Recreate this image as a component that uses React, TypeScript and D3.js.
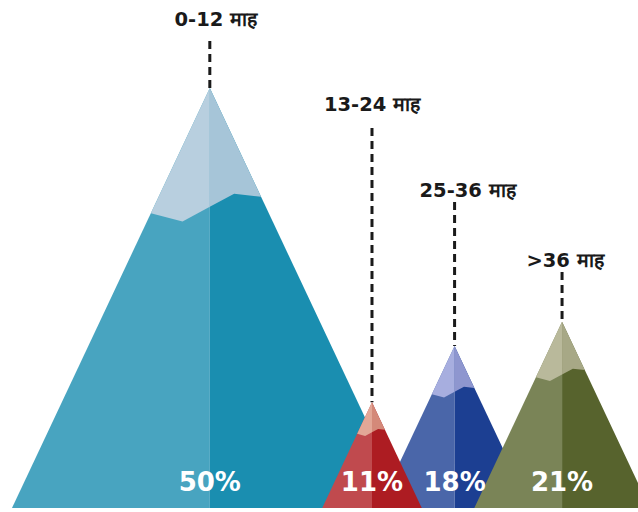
import * as d3 from 'd3'

const CATEGORIES = ['0-12 माह', '13-24 माह', '25-36 माह', '>36 माह']
const VALUES = [50, 11, 18, 21]
const PCT_LABELS = ['50%', '11%', '18%', '21%']

// snow / body, left (lit) and right (shaded) faces
const SNOW_L = ['#b8cfdf', '#e2a797', '#a7aedf', '#b9b99b']
const SNOW_R = ['#a6c5d8', '#d48979', '#8e96cf', '#a7a886']
const BODY_L = ['#48a4c0', '#c04a4e', '#4a66a9', '#7a8457']
const BODY_R = ['#1a8eb0', '#ad1c22', '#1c3f92', '#57632d']

const W = 638
const H = 512
const BASE_Y = 508
const SLOPE = 0.471 // half-width / height
const OVERLAP = 0.655
const FIRST_LEFT = 12
const LABEL_Y = [26, 111, 197, 267]
const LABEL_DX = [6, 0, 13, 3]
const LEADER_GAP = [15, 17, 5, 5]
const DRAW_ORDER = [0, 2, 1, 3]
const FONT = '"DejaVu Sans", Verdana, sans-serif'

// snowline in unit coords: u = fraction of half-width, v = fraction of height from peak
const SNOW_LEFT: [number, number][] = [[0, 0], [-0.298, 0.298], [-0.138, 0.318], [0, 0.283]]
const SNOW_RIGHT: [number, number][] = [[0, 0], [0, 0.283], [0.123, 0.252], [0.259, 0.259]]
const FACE_LEFT: [number, number][] = [[0, 0], [-1, 1], [0, 1]]
const FACE_RIGHT: [number, number][] = [[0, 0], [0, 1], [1, 1]]

export default function App() {
  const h = d3.scaleLinear().domain([0, 50]).range([17, 420])

  const heights = VALUES.map(v => h(v))
  const halfW = heights.map(d => d * SLOPE)
  const peaks: number[] = []
  halfW.forEach((hw, i) => {
    if (i === 0) peaks.push(FIRST_LEFT + hw)
    else peaks.push(peaks[i - 1] + OVERLAP * (halfW[i - 1] + hw))
  })

  const line = d3.line<[number, number]>()
  const shape = (i: number, pts: [number, number][]) => {
    const px = d3.scaleLinear().domain([-1, 1]).range([peaks[i] - halfW[i], peaks[i] + halfW[i]])
    const py = d3.scaleLinear().domain([0, 1]).range([BASE_Y - heights[i], BASE_Y])
    return line(pts.map(([u, v]) => [px(u), py(v)] as [number, number])) + 'Z'
  }

  return (
    <svg width={W} height={H} style={{ position: 'absolute', left: 0, top: 0 }} fontFamily={FONT}>
      {DRAW_ORDER.map(i => (
        <g key={i}>
          <path d={shape(i, FACE_LEFT)} fill={BODY_L[i]} />
          <path d={shape(i, FACE_RIGHT)} fill={BODY_R[i]} />
          <path d={shape(i, SNOW_LEFT)} fill={SNOW_L[i]} />
          <path d={shape(i, SNOW_RIGHT)} fill={SNOW_R[i]} />
        </g>
      ))}
      {CATEGORIES.map((c, i) => (
        <g key={c}>
          <line
            x1={peaks[i]} x2={peaks[i]}
            y1={LABEL_Y[i] + LEADER_GAP[i]} y2={BASE_Y - heights[i]}
            stroke="#1a1a1a" strokeWidth={3} strokeDasharray="8,5"
          />
          <text
            x={peaks[i] + LABEL_DX[i]} y={LABEL_Y[i]}
            textAnchor="middle" fontSize={19.5} fontWeight="bold" fill="#1a1a1a"
          >
            {c}
          </text>
        </g>
      ))}
      {PCT_LABELS.map((p, i) => (
        <text
          key={p}
          x={peaks[i]} y={491}
          textAnchor="middle" fontSize={26} fontWeight="bold" fill="#ffffff"
        >
          {p}
        </text>
      ))}
    </svg>
  )
}
